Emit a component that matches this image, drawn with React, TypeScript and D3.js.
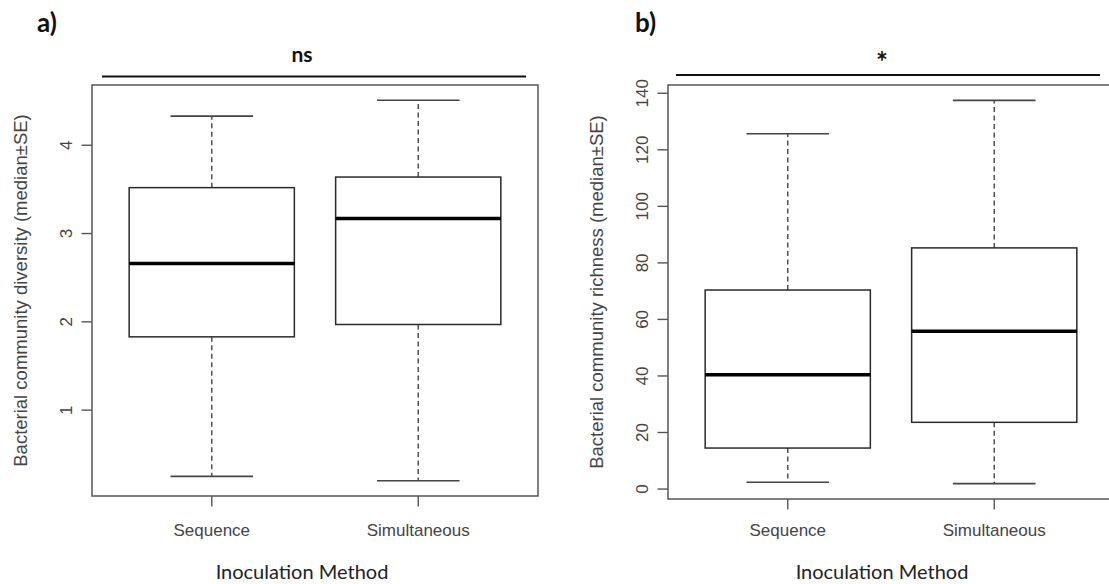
import React from "react";
import * as d3 from "d3";

const categories = ["Sequence", "Simultaneous"];
// [lower whisker, Q1, median, Q3, upper whisker]
const diversityStats = [
  [0.25, 1.83, 2.66, 3.52, 4.33],
  [0.2, 1.97, 3.17, 3.64, 4.51],
];
const richnessStats = [
  [2.4, 14.5, 40.4, 70.4, 125.7],
  [1.9, 23.6, 55.8, 85.3, 137.5],
];
const diversityTicks = [1, 2, 3, 4];
const richnessTicks = [0, 20, 40, 60, 80, 100, 120, 140];
const panelLabels = ["a)", "b)"];
const sigLabels = ["ns", "*"];
const yTitles = [
  "Bacterial community diversity (median±SE)",
  "Bacterial community richness (median±SE)",
];
const xTitle = "Inoculation Method";

const AXIS_FONT = "'Liberation Sans', Arial, sans-serif";
const TITLE_FONT = "Lato, 'Open Sans', sans-serif";

type PanelProps = {
  stats: number[][];
  ticks: number[];
  left: number;
  right: number;
  top: number;
  bottom: number;
  yTitle: string;
  xTitleX: number;
  sig: string;
  sigX: number;
  sigY: number;
  sigSize: number;
  sigLine: [number, number, number];
  label: string;
  labelX: number;
};

function Panel(p: PanelProps) {
  const all = p.stats.flat();
  const lo = d3.min(all) as number;
  const hi = d3.max(all) as number;
  const ext = (hi - lo) * 0.04;
  const y = d3.scaleLinear().domain([lo - ext, hi + ext]).range([p.bottom, p.top]);
  const x = d3.scaleLinear().domain([0.42, 2.58]).range([p.left, p.right]);
  const boxStroke = "#2a2a2a";
  const axisStroke = "#555";
  const midY = (p.top + p.bottom) / 2;
  return (
    <g>
      <text x={p.labelX} y={32} fontFamily={TITLE_FONT} fontWeight={700} fontSize={26} fill="#111">
        {p.label}
      </text>
      <line x1={p.sigLine[0]} x2={p.sigLine[1]} y1={p.sigLine[2]} y2={p.sigLine[2]} stroke="#111" strokeWidth={2.2} />
      <text x={p.sigX} y={p.sigY} textAnchor="middle" fontFamily={TITLE_FONT} fontWeight={700} fontSize={p.sigSize} fill="#111">
        {p.sig}
      </text>
      {p.stats.map((s, i) => {
        const cx = x(i + 1);
        const bx0 = x(i + 1 - 0.4);
        const bx1 = x(i + 1 + 0.4);
        const cx0 = x(i + 1 - 0.2);
        const cx1 = x(i + 1 + 0.2);
        return (
          <g key={i}>
            <line x1={cx} x2={cx} y1={y(s[3])} y2={y(s[4])} stroke="#444" strokeWidth={1.4} strokeDasharray="5,3.5" />
            <line x1={cx} x2={cx} y1={y(s[1])} y2={y(s[0])} stroke="#444" strokeWidth={1.4} strokeDasharray="5,3.5" />
            <line x1={cx0} x2={cx1} y1={y(s[4])} y2={y(s[4])} stroke="#444" strokeWidth={1.6} />
            <line x1={cx0} x2={cx1} y1={y(s[0])} y2={y(s[0])} stroke="#444" strokeWidth={1.6} />
            <rect x={bx0} y={y(s[3])} width={bx1 - bx0} height={y(s[1]) - y(s[3])} fill="white" stroke={boxStroke} strokeWidth={1.5} />
            <line x1={bx0} x2={bx1} y1={y(s[2])} y2={y(s[2])} stroke="#000" strokeWidth={3.5} />
          </g>
        );
      })}
      <rect x={p.left} y={p.top} width={p.right - p.left} height={p.bottom - p.top} fill="none" stroke={axisStroke} strokeWidth={1.5} />
      {p.ticks.map((t) => (
        <g key={t}>
          <line x1={p.left - 10.5} x2={p.left} y1={y(t)} y2={y(t)} stroke={axisStroke} strokeWidth={1.4} />
          <text
            transform={`translate(${p.left - 26},${y(t)}) rotate(-90)`}
            textAnchor="middle"
            dominantBaseline="central"
            fontFamily={AXIS_FONT}
            fontSize={17}
            fill="#444"
          >
            {t}
          </text>
        </g>
      ))}
      {categories.map((c, i) => (
        <g key={c}>
          <line x1={x(i + 1)} x2={x(i + 1)} y1={p.bottom} y2={p.bottom + 10.5} stroke={axisStroke} strokeWidth={1.4} />
          <text x={x(i + 1)} y={536} textAnchor="middle" fontFamily={AXIS_FONT} fontSize={17} fill="#444">
            {c}
          </text>
        </g>
      ))}
      <text
        transform={`translate(${p.left - 72},${midY}) rotate(-90)`}
        textAnchor="middle"
        dominantBaseline="central"
        fontFamily={AXIS_FONT}
        fontSize={18.5}
        fill="#444"
      >
        {p.yTitle}
      </text>
      <text x={p.xTitleX} y={579} textAnchor="middle" fontFamily={TITLE_FONT} fontSize={20} fill="#222">
        {xTitle}
      </text>
    </g>
  );
}

export default function App() {
  return (
    <svg
      width={1109}
      height={584}
      viewBox="0 0 1109 584"
      style={{ position: "absolute", left: 0, top: 0, background: "white" }}
    >
      <rect width={1109} height={584} fill="white" />
      <Panel
        stats={diversityStats}
        ticks={diversityTicks}
        left={92}
        right={538}
        top={85}
        bottom={496}
        yTitle={yTitles[0]}
        xTitleX={302}
        sig={sigLabels[0]}
        sigX={302}
        sigY={62}
        sigSize={21}
        sigLine={[102, 526, 76.5]}
        label={panelLabels[0]}
        labelX={37}
      />
      <Panel
        stats={richnessStats}
        ticks={richnessTicks}
        left={668}
        right={1114}
        top={85}
        bottom={499}
        yTitle={yTitles[1]}
        xTitleX={882}
        sig={sigLabels[1]}
        sigX={882}
        sigY={72}
        sigSize={28}
        sigLine={[676, 1100, 75]}
        label={panelLabels[1]}
        labelX={635}
      />
    </svg>
  );
}
